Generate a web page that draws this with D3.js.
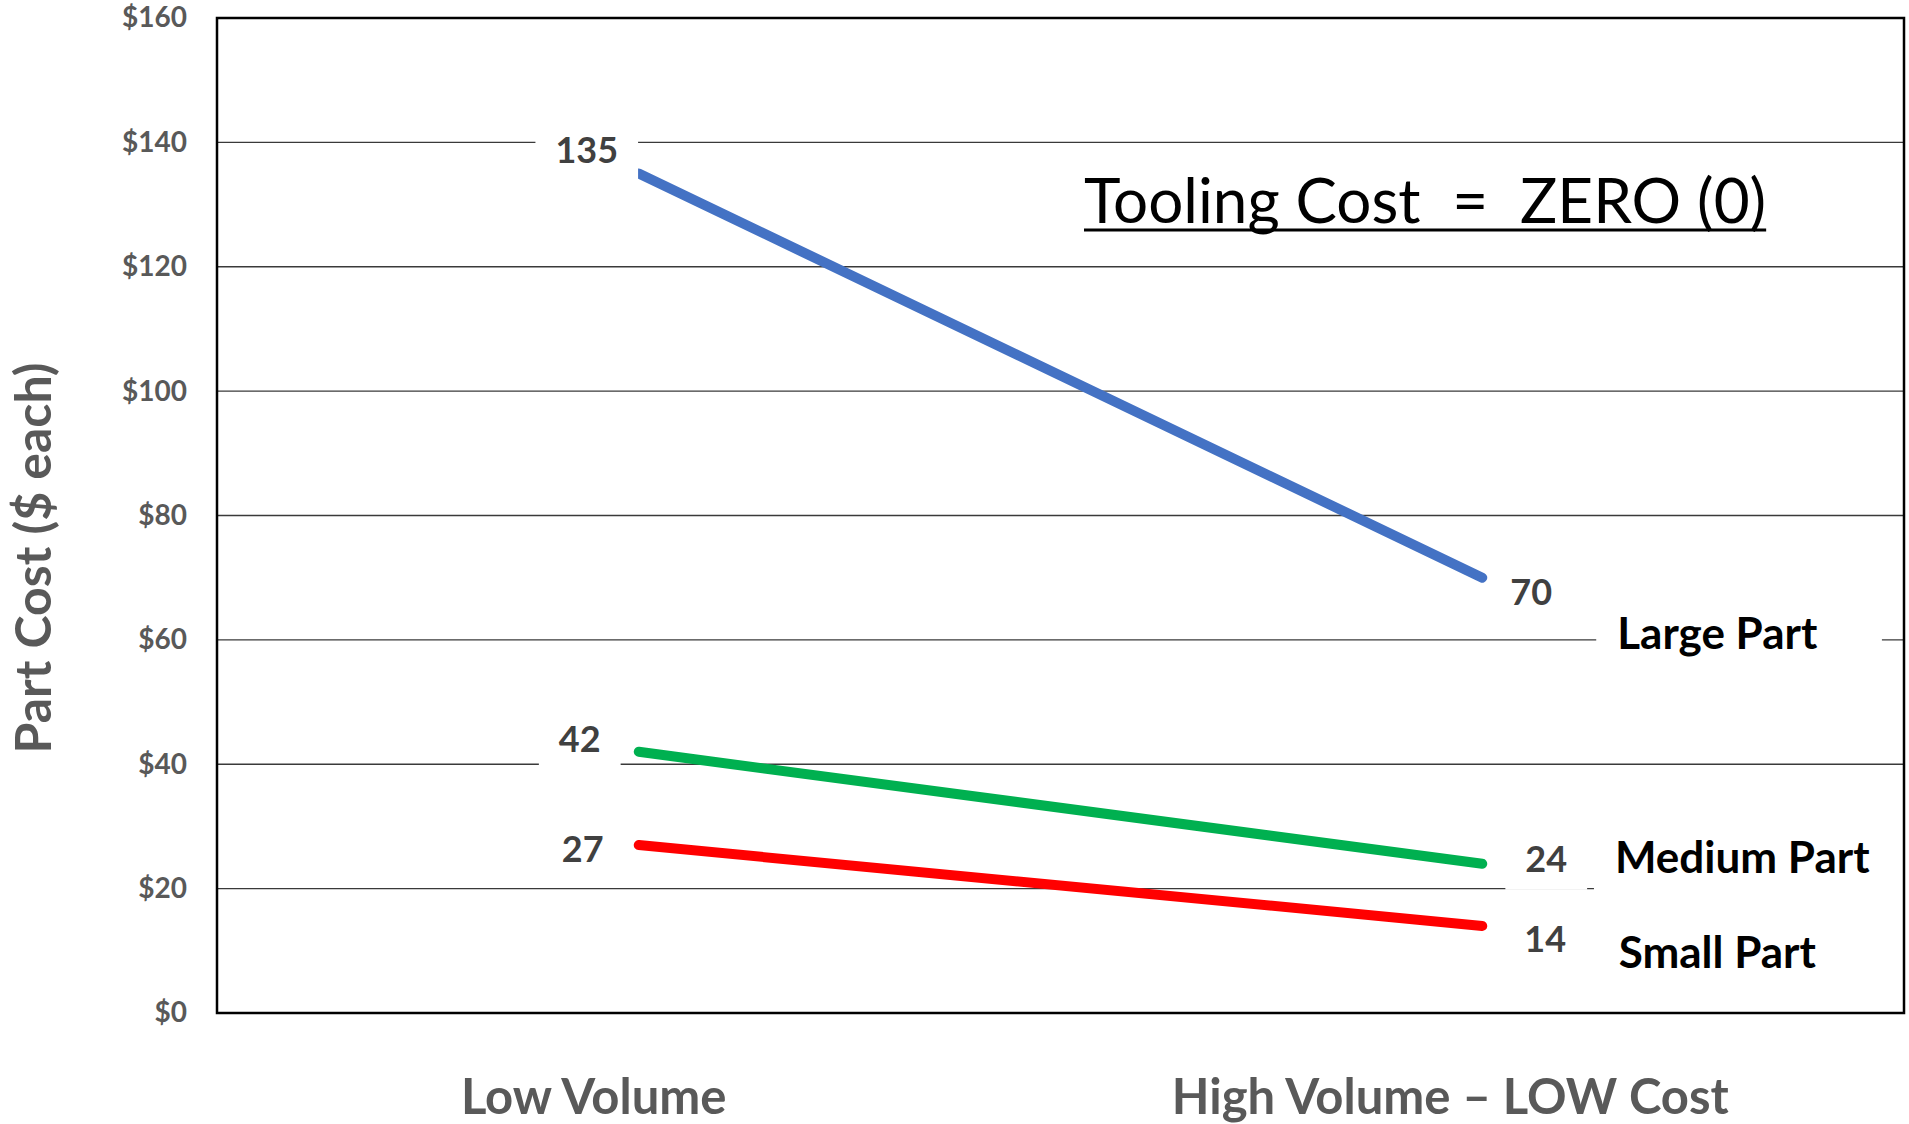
<!DOCTYPE html>
<html>
<head>
<meta charset="utf-8">
<script src="https://cdn.jsdelivr.net/npm/d3@7"></script>
<style>
  html, body { margin: 0; padding: 0; background: #fff; }
  svg { display: block; }
  text { font-family: Lato, "Open Sans", sans-serif; }
</style>
</head>
<body>
<svg id="chart" width="1909" height="1124"></svg>
<script>
// ---- data ----
const categories = ["Low Volume", "High Volume \u2013 LOW Cost"];
const seriesNames = ["Large Part", "Medium Part", "Small Part"];
const largePart = [135, 70];
const mediumPart = [42, 24];
const smallPart = [27, 14];
const yTicks = [0, 20, 40, 60, 80, 100, 120, 140, 160];
const yTitle = "Part Cost ($ each)";
const note = "Tooling Cost  =  ZERO (0)";

// ---- layout ----
const W = 1909, H = 1124;
const margin = { top: 18, right: 5, bottom: 111, left: 217 };
const iw = W - margin.left - margin.right;
const ih = H - margin.top - margin.bottom;

const seriesColors = ["#4472C4", "#00B050", "#FF0000"];
const seriesValues = [largePart, mediumPart, smallPart];

// hand-placed value label nudges (start, end) and series-name label nudges
const valueNudge = [
  [[-52, -10], [49, 27]],
  [[-59, 0], [64, 8]],
  [[-56, 17], [63, 26]]
];
const nameNudge = [[235, 71], [260, 9], [235, 42]];
const catNudge = [-45, -32];

const svg = d3.select("#chart");
const g = svg.append("g").attr("transform", `translate(${margin.left},${margin.top})`);

const x = d3.scaleBand().domain(categories).range([0, iw]).padding(0);
const y = d3.scaleLinear().domain([0, 160]).range([ih, 0]);
const cx = c => x(c) + x.bandwidth() / 2;

// horizontal gridlines
g.append("g")
  .selectAll("line")
  .data(yTicks.filter(v => v > 0 && v < 160))
  .join("line")
  .attr("x1", 0).attr("x2", iw)
  .attr("y1", d => y(d)).attr("y2", d => y(d))
  .attr("stroke", "#3a3a3a")
  .attr("stroke-width", 1.3);

// y axis tick labels
const yAxis = d3.axisLeft(y).tickValues(yTicks).tickSize(0).tickPadding(30)
  .tickFormat(d => "$" + d);
const ya = g.append("g").call(yAxis);
ya.select(".domain").remove();
ya.selectAll("text")
  .attr("fill", "#595959")
  .style("font-family", "Lato, sans-serif")
  .style("font-size", "28px")
  .style("font-weight", "700");

// y axis title
svg.append("text")
  .attr("transform", `translate(51,558) rotate(-90)`)
  .attr("text-anchor", "middle")
  .attr("fill", "#595959")
  .style("font-size", "50px")
  .style("font-weight", "700")
  .text(yTitle);

// category labels
g.append("g")
  .selectAll("text")
  .data(categories)
  .join("text")
  .attr("x", (d, i) => cx(d) + catNudge[i])
  .attr("y", ih + 101)
  .attr("text-anchor", "middle")
  .attr("fill", "#595959")
  .style("font-size", "49px")
  .style("font-weight", "700")
  .text(d => d);

// series lines
const line = d3.line().x((d, i) => cx(categories[i])).y(d => y(d));
g.append("g")
  .selectAll("path")
  .data(seriesValues)
  .join("path")
  .attr("d", d => line(d))
  .attr("fill", "none")
  .attr("stroke", (d, i) => seriesColors[i])
  .attr("stroke-width", 10)
  .attr("stroke-linecap", "round");

// label with white backing box
function boxedLabel(parent, px, py, txt, opts) {
  const grp = parent.append("g");
  const rect = grp.append("rect").attr("fill", "#fff");
  const t = grp.append("text")
    .attr("x", px).attr("y", py)
    .attr("text-anchor", "middle")
    .attr("fill", opts.color)
    .style("font-size", opts.size + "px")
    .style("font-weight", "700")
    .text(txt);
  const bb = t.node().getBBox();
  const padX = opts.padX, padR = opts.padR != null ? opts.padR : opts.padX;
  rect.attr("x", bb.x - padX).attr("y", bb.y - 4)
    .attr("width", bb.width + padX + padR)
    .attr("height", bb.height + 14);
}

const labels = g.append("g");
seriesValues.forEach((vals, s) => {
  vals.forEach((v, i) => {
    const [dx, dy] = valueNudge[s][i];
    boxedLabel(labels, cx(categories[i]) + dx, y(v) + dy, String(v),
      { color: "#404040", size: 36, padX: 20 });
  });
  const last = vals.length - 1;
  const [nx, ny] = nameNudge[s];
  boxedLabel(labels, cx(categories[last]) + nx, y(vals[last]) + ny, seriesNames[s],
    { color: "#000", size: 44, padX: 21, padR: s === 1 ? 60 : (s === 0 ? 64 : 21) });
});

// plot frame
g.append("rect")
  .attr("x", 0).attr("y", 0).attr("width", iw).attr("height", ih)
  .attr("fill", "none").attr("stroke", "#000").attr("stroke-width", 2.5);

// tooling cost note, underlined
const noteText = svg.append("text")
  .attr("x", 1084).attr("y", 223)
  .attr("fill", "#000")
  .style("font-size", "62px")
  .style("font-weight", "400")
  .style("white-space", "pre")
  .attr("xml:space", "preserve")
  .text(note);
const nb = noteText.node().getBBox();
svg.append("line")
  .attr("x1", nb.x).attr("x2", nb.x + nb.width)
  .attr("y1", 230).attr("y2", 230)
  .attr("stroke", "#000").attr("stroke-width", 3);
</script>
</body>
</html>
